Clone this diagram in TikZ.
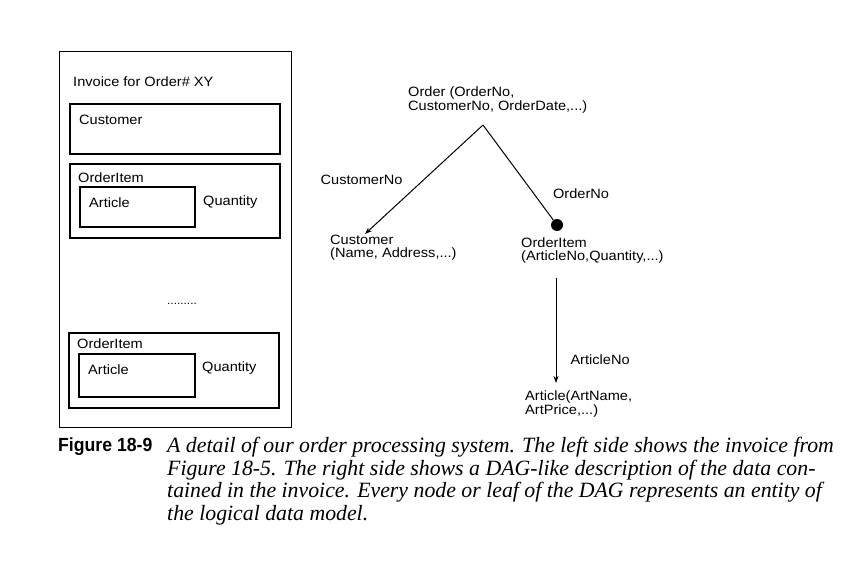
\documentclass[tikz,border=0pt]{standalone}
\usepackage{fontspec}
\setmainfont{Liberation Serif}
\setsansfont{Liberation Sans}[FakeStretch=1.08]
\usetikzlibrary{arrows.meta, positioning}
\tikzset{
  box/.style      = {draw, line width=1.6pt, inner sep=0pt, anchor=north west},
  lbl/.style      = {inner sep=0pt, anchor=west, font=\sffamily\fontsize{13.5}{12.5}\selectfont, align=left},
  arrow/.style    = {line width=1pt, -{Stealth[length=7pt, width=5pt]}},
  edge/.style     = {line width=1pt},
  leafdot/.style  = {circle, fill=black, inner sep=0pt, minimum size=12pt},
}
\begin{document}
\begin{tikzpicture}[x=1pt, y=-1pt]
    \useasboundingbox (0,0) rectangle (864,578);
    % Left side: the invoice
    \node[box, line width=1.3pt, minimum width=232, minimum height=376] (invoice) at (59,51) {};
    \node[lbl] (title) at (73,82) {Invoice for Order\# XY};
    \node[box, minimum width=210, minimum height=50] (custbox) at (69,103) {};
    \node[lbl] (cust) at (79,120) {Customer};
    % first order item
    \node[box, minimum width=210, minimum height=74] (itemA) at (69,163) {};
    \node[lbl] (itemAlbl) at (78,178) {OrderItem};
    \node[box, minimum width=115, minimum height=40] (artA) at (79,186) {};
    \node[lbl] (artAlbl) at (89,203) {Article};
    \node[lbl] (qtyA) at (203,202) {Quantity};
    % dots in between
    \node[inner sep=0pt, font=\sffamily\fontsize{11}{11}\selectfont] (more) at (182,304) {.........};
    % last order item
    \node[box, minimum width=210, minimum height=75] (itemB) at (68,332) {};
    \node[lbl] (itemBlbl) at (77,344) {OrderItem};
    \node[box, minimum width=116, minimum height=43] (artB) at (78,353) {};
    \node[lbl] (artBlbl) at (88,370) {Article};
    \node[lbl] (qtyB) at (202,368) {Quantity};

    % Right side: the DAG
    \node[lbl, anchor=north west] (order) at (408,87) {Order (OrderNo,\\CustomerNo, OrderDate,...)};
    \coordinate (apex) at (483,125);
    \node[lbl, anchor=north west] (customer) at (330,235) {Customer\\(Name, Address,...)};
    \coordinate (custend) at (365,234);
    \node[leafdot] (dot) at (557,225) {};
    \node[lbl, anchor=north west] (orderitem) at (521,238) {OrderItem\\(ArticleNo,Quantity,...)};
    \coordinate (itemout) at (556,278);
    \coordinate (artin) at (556,383);
    \node[lbl, anchor=north west] (article) at (525,391) {Article(ArtName,\\ArtPrice,...)};

    \draw[arrow] (apex) -- node[lbl, anchor=east, pos=0.5, xshift=-21pt] {CustomerNo} (custend);
    \draw[edge] (apex) -- node[lbl, anchor=west, pos=0.72, xshift=19pt] {OrderNo} (dot);
    \draw[arrow] (itemout) -- node[lbl, anchor=west, pos=0.78, xshift=14pt] {ArticleNo} (artin);

    % Caption
    \node[inner sep=0pt, anchor=west] (figno) at (58,447)
      {\sffamily\bfseries\fontsize{19}{19}\selectfont\scalebox{0.86}[1]{Figure 18-9}};
    \node[inner sep=0pt, anchor=north west, align=left,
          font=\itshape\fontsize{21.8}{22.5}\selectfont] (caption) at (167,437)
      {A detail of our order processing system. The left side shows the invoice from\\
       Figure 18-5. The right side shows a DAG-like description of the data con-\\
       tained in the invoice. Every node or leaf of the DAG represents an entity of\\
       the logical data model.};
\end{tikzpicture}
\end{document}
